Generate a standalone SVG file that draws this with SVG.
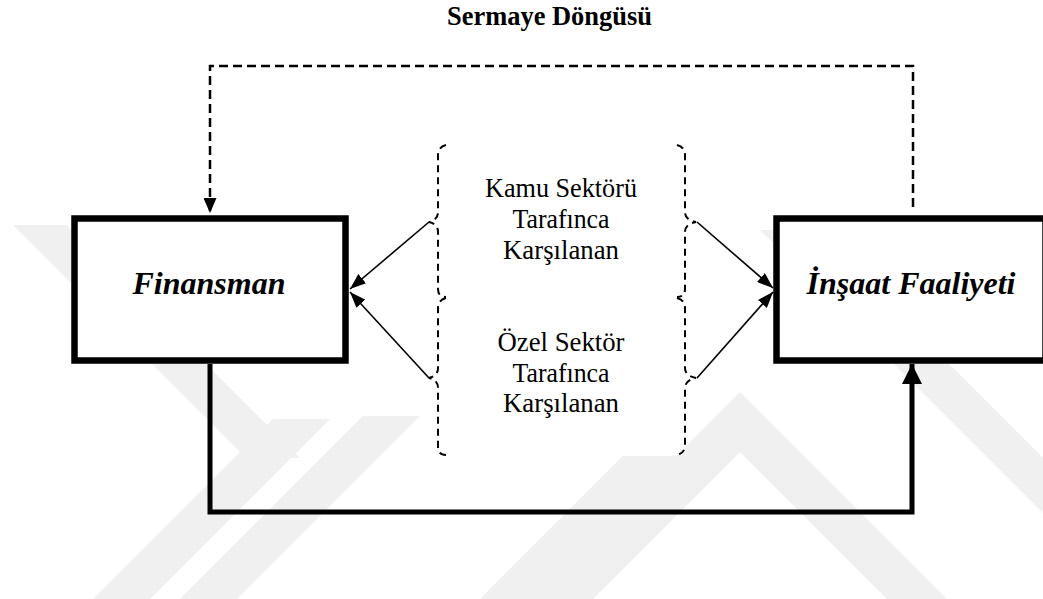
<svg xmlns="http://www.w3.org/2000/svg" width="1043" height="599" viewBox="0 0 1043 599">
<defs>
<style>
.title{font-family:"Liberation Serif","Times New Roman",serif;font-weight:bold;font-size:27px;text-anchor:middle;fill:#000}
.node-label{font-family:"Liberation Serif","Times New Roman",serif;font-weight:bold;font-style:italic;font-size:32px;text-anchor:middle;fill:#000}
.mid{font-family:"Liberation Serif","Times New Roman",serif;font-size:28px;text-anchor:middle;fill:#000}
.box{fill:#fff;stroke:#000;stroke-width:6.5}
.brace{fill:none;stroke:#000;stroke-width:2;stroke-dasharray:7 5}
.thin{fill:none;stroke:#000;stroke-width:1.6}
.dash{fill:none;stroke:#000;stroke-width:2.5;stroke-dasharray:9 5}
.thick{fill:none;stroke:#000;stroke-width:5;stroke-linejoin:miter}
.wm{fill:#f0f0f0}
</style>
<marker id="ah" markerUnits="userSpaceOnUse" markerWidth="16" markerHeight="12" refX="16" refY="6" orient="auto">
<path d="M0,0 L16,6 L0,12 Z" fill="#000"/>
</marker>
<marker id="ahd" markerUnits="userSpaceOnUse" markerWidth="15" markerHeight="13" refX="15" refY="6.5" orient="auto">
<path d="M0,0 L15,6.5 L0,13 Z" fill="#000"/>
</marker>
<marker id="ahb" markerUnits="userSpaceOnUse" markerWidth="20" markerHeight="20" refX="20" refY="10" orient="auto">
<path d="M0,0 L20,10 L0,20 Z" fill="#000"/>
</marker>
</defs>
<rect x="0" y="0" width="1043" height="599" fill="#fff"/>
<g id="watermark">
<polygon class="wm" points="13,225 67,225 300,458 246,458"/>
<polygon class="wm" points="93,599 150,599 330,419 273,419"/>
<polygon class="wm" points="180,599 237,599 420,416 363,416"/>
<polygon class="wm" points="480,599 540,599 683,456 623,456"/>
<polygon class="wm" points="740,392 947,599 887,599 740,452 593,599 533,599"/>
<polygon class="wm" points="760,230 815,230 1043,458 1043,513"/>
</g>
<text class="title" x="549.5" y="24.5" textLength="205" lengthAdjust="spacingAndGlyphs">Sermaye Döngüsü</text>
<g id="text-boxes">
<rect x="443" y="145" width="240" height="152" fill="#fff"/>
<rect x="443" y="298" width="240" height="157" fill="#fff"/>
</g>
<g id="node-finansman">
<rect class="box" x="74.5" y="218.5" width="271" height="142"/>
<text class="node-label" x="209" y="294">Finansman</text>
</g>
<g id="node-insaat">
<rect class="box" x="776.5" y="218.5" width="269" height="142"/>
<text class="node-label" x="911" y="294">İnşaat Faaliyeti</text>
</g>
<g id="node-kamu">
<text class="mid" x="561" y="197" textLength="152" lengthAdjust="spacingAndGlyphs">Kamu Sektörü</text>
<text class="mid" x="561" y="228" textLength="97" lengthAdjust="spacingAndGlyphs">Tarafınca</text>
<text class="mid" x="561" y="259" textLength="116" lengthAdjust="spacingAndGlyphs">Karşılanan</text>
</g>
<g id="node-ozel">
<text class="mid" x="561" y="351" textLength="127" lengthAdjust="spacingAndGlyphs">Özel Sektör</text>
<text class="mid" x="561" y="382" textLength="97" lengthAdjust="spacingAndGlyphs">Tarafınca</text>
<text class="mid" x="561" y="412" textLength="116" lengthAdjust="spacingAndGlyphs">Karşılanan</text>
</g>
<g id="braces">
<path class="brace" d="M446,145 Q438,147 438,155 L438,212 Q438,220 429,222 Q438,224 438,232 L438,289 Q438,297 446,297"/>
<path class="brace" d="M446,298 Q438,300 438,308 L438,368 Q438,376 429,378 Q438,380 438,388 L438,447 Q438,455 446,455"/>
<path class="brace" d="M677,145 Q685,147 685,155 L685,212 Q685,220 696,222 Q685,224 685,232 L685,289 Q685,297 677,297"/>
<path class="brace" d="M677,298 Q685,300 685,308 L685,368 Q685,376 696,378 Q685,380 685,388 L685,445 Q685,453 677,455"/>
</g>
<g id="connectors">
<path class="thin" d="M429,222 L350,289" marker-end="url(#ah)"/>
<path class="thin" d="M429,378 L350,292" marker-end="url(#ah)"/>
<path class="thin" d="M697,222 L773,288" marker-end="url(#ah)"/>
<path class="thin" d="M697,378 L773,292" marker-end="url(#ah)"/>
<path class="dash" d="M913,207 L913,66 L210,66 L210,213" marker-end="url(#ahd)"/>
<path class="thick" d="M210,364 L210,512 L912,512 L912,364" marker-end="url(#ahb)"/>
</g>
</svg>
